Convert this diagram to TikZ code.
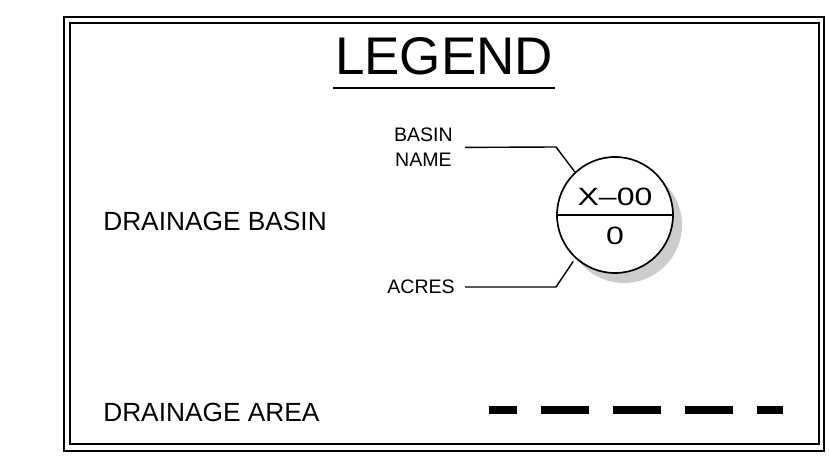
\documentclass[tikz,border=0pt]{standalone}
\usepackage{graphicx}
\usepackage{fontspec}
\setmainfont{Liberation Sans}
\definecolor{lgshadow}{RGB}{204,204,204}
\usetikzlibrary{positioning,calc}
\newcommand{\widetext}[1]{\scalebox{1.28}[1]{#1}}

\begin{document}
\begin{tikzpicture}[
  every node/.style={inner sep=0pt},
  frameline/.style={draw,line width=1.2pt},
  leader/.style={draw,line width=1pt},
  bigtitle/.style={font=\fontsize{37.7}{40}\selectfont},
  mainlabel/.style={font=\fontsize{18.7}{22}\selectfont,anchor=west},
  smalllabel/.style={font=\fontsize{13.9}{17.8}\selectfont,align=center,anchor=east},
  basin/.style={circle,draw,line width=1.2pt,fill=white,minimum size=2.9cm},
  circtext/.style={font=\fontsize{17.8}{20}\selectfont},
  dashline/.style={line width=5.7pt,dash pattern=on 34.14pt off 17.07pt,dash phase=14.2pt},
]
  \useasboundingbox (0,0) rectangle (20.725,11.575);

  % Frame
  \draw[frameline] (1.6,0.3) rectangle (20.6,11.15);
  \draw[frameline] (1.75,0.475) rectangle (20.475,11.0);

  % Title
  \node[bigtitle] (title) at (11.1,10.16) {LEGEND};
  \draw[line width=1pt] (8.325,9.375) -- (13.875,9.375);

  % Row labels
  \node[mainlabel] (lbasin) at (2.575,6.04) {DRAINAGE BASIN};
  \node[mainlabel] (larea) at (2.575,1.26) {DRAINAGE AREA};

  % Basin symbol
  \fill[lgshadow] (15.6,5.95) circle (1.45);
  \node[basin] (circ) at (15.375,6.2) {};
  \draw[line width=1.2pt] (circ.west) -- (circ.east);
  \node[circtext] (bid) at (15.375,6.65) {\widetext{X\textendash00}};
  \node[circtext] (bacres) at (15.375,5.69) {\widetext{0}};

  % Leaders
  \node[smalllabel,inner xsep=0.3cm] (bname) at (11.625,7.89) {BASIN\\NAME};
  \node[smalllabel,inner xsep=0.25cm] (acres) at (11.625,4.4) {ACRES};
  \coordinate (kneeup) at (13.9,7.9);
  \coordinate (kneelow) at (13.9,4.4);
  \draw[leader] (bname.east) -- (kneeup) -- (circ.133);
  \draw[leader] (acres.east) -- (kneelow) -- ($(circ.center)!1.06!(circ.228)$);

  % Area symbol
  \coordinate (dstart) at (12.225,1.325);
  \coordinate (dend) at (19.575,1.325);
  \draw[dashline] (dstart) -- (dend);
\end{tikzpicture}
\end{document}
